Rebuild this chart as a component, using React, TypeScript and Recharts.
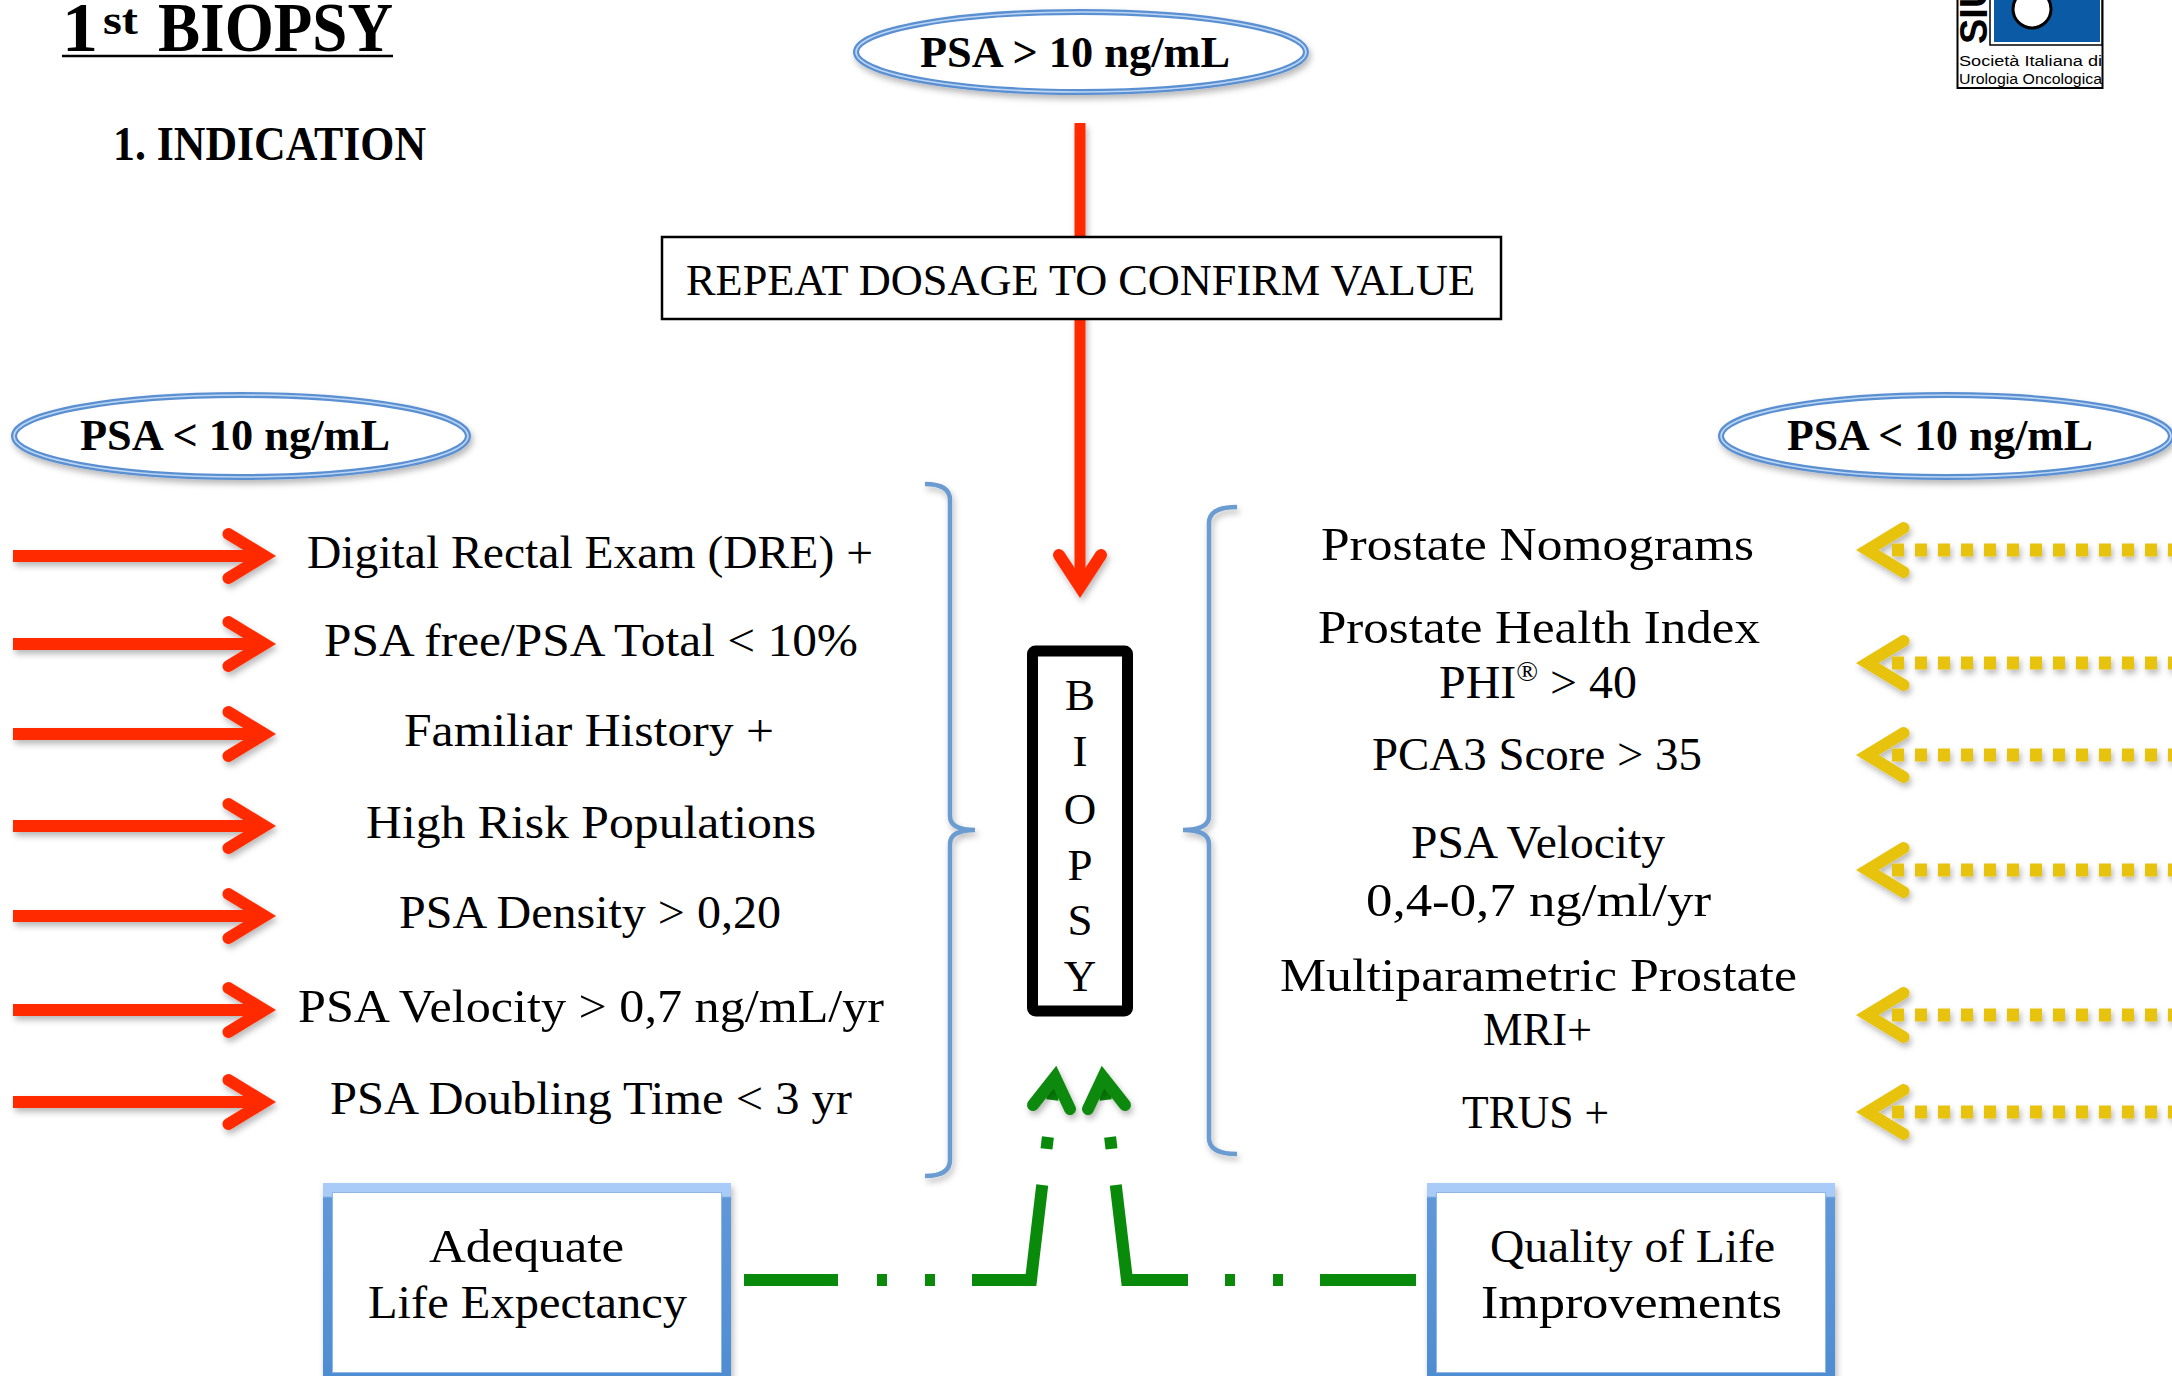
import React from 'react';
import { ScatterChart, Scatter, XAxis, YAxis } from 'recharts';

const WIDTH = 2172;
const HEIGHT = 1376;

// ---------- text content ----------
const titleParts = ['1', 'st', 'BIOPSY'];
const sectionLabel = '1. INDICATION';
const topCondition = 'PSA > 10 ng/mL';
const sideCondition = 'PSA < 10 ng/mL';
const confirmStep = 'REPEAT DOSAGE TO CONFIRM VALUE';
const biopsyLetters = ['B', 'I', 'O', 'P', 'S', 'Y'];
const leftCriteria = [
  'Digital Rectal Exam (DRE) +',
  'PSA free/PSA Total < 10%',
  'Familiar History +',
  'High Risk Populations',
  'PSA Density > 0,20',
  'PSA Velocity > 0,7 ng/mL/yr',
  'PSA Doubling Time < 3 yr',
];
const rightCriteria = [
  ['Prostate Nomograms'],
  ['Prostate Health Index', 'PHI® > 40'],
  ['PCA3 Score > 35'],
  ['PSA Velocity', '0,4-0,7 ng/ml/yr'],
  ['Multiparametric Prostate', 'MRI+'],
  ['TRUS +'],
];
const bottomFactors = [
  ['Adequate', 'Life Expectancy'],
  ['Quality of Life', 'Improvements'],
];
const logoMark = 'SIU';
const logoLines = ['Società Italiana di', 'Urologia Oncologica'];

// ---------- layout (pixel space of the diagram) ----------
const SERIF = "'Liberation Serif', 'Times New Roman', serif";
const SANS = "'Liberation Sans', Arial, sans-serif";
const RED = '#ff2a00';
const YELLOW = '#e7c30e';
const GREEN = '#0a8a0a';
const BRACE = '#6b9bd1';

const titleLayout = [
  { x: 62, y: 51, w: 36, size: 70 },
  { x: 103, y: 34, w: 35, size: 42 },
  { x: 158, y: 51, w: 235, size: 70 },
];
const leftRowY = [556, 644, 734, 826, 916, 1010, 1102];
const leftTextSpan = [
  [307, 873], [324, 858], [404, 774], [366, 816], [399, 781], [298, 884], [330, 852],
];
const rightTextLayout = [
  [[560, 1321, 1754]],
  [[643, 1318, 1760], [698, 1439, 1637]],
  [[770, 1372, 1702]],
  [[858, 1411, 1665], [916, 1366, 1711]],
  [[991, 1280, 1797], [1045, 1483, 1592]],
  [[1128, 1462, 1609]],
];
const rightArrowY = [550, 663, 755, 870, 1015, 1112];
const letterBaselines = [710, 766, 824, 880, 935, 991];
const bottomBoxLayout = [
  { x0: 323, x1: 731, lines: [[1262, 429, 624], [1318, 368, 687]] },
  { x0: 1427, x1: 1835, lines: [[1262, 1490, 1775], [1318, 1481, 1782]] },
];
const ellipseLayout = [
  { x: 1081, y: 52, rx: 225, ry: 40, tx: 920, ty: 67, tw: 310 },
  { x: 241, y: 436, rx: 227, ry: 41, tx: 80, ty: 450, tw: 310 },
  { x: 1946, y: 436, rx: 225, ry: 41, tx: 1787, ty: 450, tw: 306 },
];

type TextPt = {
  x: number; y: number; text: string; size: number; w?: number;
  weight?: string; anchor?: string; family?: string;
};

function buildTexts(): TextPt[] {
  const t: TextPt[] = [];
  titleParts.forEach((s, i) => t.push({ ...titleLayout[i], text: s, weight: 'bold' }));
  t.push({ x: 113, y: 160, w: 313, text: sectionLabel, size: 48, weight: 'bold' });
  const ellipseTexts = [topCondition, sideCondition, sideCondition];
  ellipseLayout.forEach((e, i) =>
    t.push({ x: e.tx, y: e.ty, w: e.tw, text: ellipseTexts[i], size: 44, weight: 'bold' })
  );
  t.push({ x: 686, y: 295, w: 789, text: confirmStep, size: 45 });
  biopsyLetters.forEach((s, i) =>
    t.push({ x: 1080, y: letterBaselines[i], text: s, size: 45, anchor: 'middle' })
  );
  leftCriteria.forEach((s, i) =>
    t.push({ x: leftTextSpan[i][0], y: leftRowY[i] + 12, w: leftTextSpan[i][1] - leftTextSpan[i][0], text: s, size: 46 })
  );
  rightCriteria.forEach((lines, i) =>
    lines.forEach((s, j) => {
      const [b, x0, x1] = rightTextLayout[i][j];
      t.push({ x: x0, y: b, w: x1 - x0, text: s, size: 46 });
    })
  );
  bottomFactors.forEach((lines, i) =>
    lines.forEach((s, j) => {
      const [b, x0, x1] = bottomBoxLayout[i].lines[j];
      t.push({ x: x0, y: b, w: x1 - x0, text: s, size: 46 });
    })
  );
  logoLines.forEach((s, i) =>
    t.push({ x: 1959, y: 66 + i * 18, w: 143, text: s, size: 14, family: SANS })
  );
  return t;
}
const textPoints = buildTexts();

// ---------- shapes ----------
const Empty = () => <g />;

const DefsShape = () => (
  <defs>
    <filter id="shadow" filterUnits="userSpaceOnUse" x={0} y={0} width={WIDTH} height={HEIGHT}>
      <feDropShadow dx={2} dy={4} stdDeviation={3} floodColor="#000" floodOpacity={0.28} />
    </filter>
    <linearGradient id="boxStroke" x1="0" y1="0" x2="0" y2="1">
      <stop offset="0" stopColor="#a9cbf7" />
      <stop offset="0.045" stopColor="#a9cbf7" />
      <stop offset="0.055" stopColor="#5f98d9" />
      <stop offset="1" stopColor="#4f8dd2" />
    </linearGradient>
  </defs>
);

const TextShape = (props: any) => {
  const { cx, cy, payload } = props;
  const p = payload as TextPt;
  let content: React.ReactNode = p.text;
  if (p.text.includes('®')) {
    const [a, b] = p.text.split('®');
    content = (
      <>
        <tspan>{a}</tspan>
        <tspan fontSize={p.size * 0.6} dy={-p.size * 0.36}>®</tspan>
        <tspan dy={p.size * 0.36}>{b}</tspan>
      </>
    );
  }
  return (
    <text
      x={cx}
      y={cy}
      fontSize={p.size}
      fontWeight={p.weight || 'normal'}
      fontFamily={p.family || SERIF}
      textAnchor={p.anchor || 'start'}
      textLength={p.w}
      lengthAdjust={p.w ? 'spacingAndGlyphs' : undefined}
      fill="#000"
    >
      {content}
    </text>
  );
};

const EllipseShape = (props: any) => {
  const { cx, cy, payload } = props;
  return (
    <g>
      <ellipse cx={cx} cy={cy} rx={payload.rx} ry={payload.ry} fill="#fff" stroke="#5a90d2" strokeWidth={6} filter="url(#shadow)" />
      <ellipse cx={cx} cy={cy} rx={payload.rx} ry={payload.ry} fill="none" stroke="#bcd5f2" strokeWidth={1.6} />
    </g>
  );
};

const RightArrowShape = (props: any) => {
  const { cx, cy } = props;
  const ax = cx - 11.5;
  return (
    <g filter="url(#shadow)">
      <line x1={cx - 263} y1={cy} x2={ax} y2={cy} stroke={RED} strokeWidth={12} />
      <polyline
        points={`${cx - 47.5},${cy - 22} ${ax},${cy} ${cx - 47.5},${cy + 22}`}
        fill="none" stroke={RED} strokeWidth={12} strokeLinecap="round" strokeLinejoin="miter"
      />
    </g>
  );
};

const LeftArrowShape = (props: any) => {
  const { cx, cy } = props;
  const ax = cx + 11.5;
  return (
    <g filter="url(#shadow)">
      <line x1={cx + 36} y1={cy} x2={WIDTH + 20} y2={cy} stroke={YELLOW} strokeWidth={13} strokeDasharray="12 11" />
      <polyline
        points={`${cx + 47.5},${cy - 22} ${ax},${cy} ${cx + 47.5},${cy + 22}`}
        fill="none" stroke={YELLOW} strokeWidth={12} strokeLinecap="round" strokeLinejoin="miter"
      />
    </g>
  );
};

const DownArrowShape = (props: any) => {
  const { cx, cy } = props;
  const ay = cy - 11;
  return (
    <g filter="url(#shadow)">
      <line x1={cx} y1={cy - 475} x2={cx} y2={ay} stroke={RED} strokeWidth={11} />
      <polyline
        points={`${cx - 21},${ay - 32} ${cx},${ay} ${cx + 21},${ay - 32}`}
        fill="none" stroke={RED} strokeWidth={12} strokeLinecap="round" strokeLinejoin="miter"
      />
    </g>
  );
};

const RectShape = (props: any) => {
  const { cx, cy, payload } = props;
  return (
    <rect
      x={cx} y={cy} width={payload.w} height={payload.h} rx={payload.r || 0}
      fill="#fff" stroke={payload.stroke} strokeWidth={payload.sw}
    />
  );
};

const FactorBoxShape = (props: any) => {
  const { cx, cy, payload } = props;
  const w = payload.w;
  const h = 190;
  return (
    <g>
      <rect x={cx + 4.5} y={cy + 4.5} width={w - 9} height={h} fill="#fff" stroke="url(#boxStroke)" strokeWidth={9} filter="url(#shadow)" />
      <rect x={cx + 9.5} y={cy + 9.5} width={w - 19} height={h - 10} fill="none" stroke="#8fb6e6" strokeWidth={1} />
    </g>
  );
};

const BraceShape = (props: any) => {
  const { cx, cy, payload } = props;
  const dir = payload.dir; // +1 : "}" tip to the right, -1 : "{" tip to the left
  const vx = cx - dir * payload.depth;
  const hx = cx - dir * payload.hook;
  const top = cy - payload.up;
  const bot = cy + payload.down;
  const d = `M${hx},${top} Q${vx},${top} ${vx},${top + 16} L${vx},${cy - 14} Q${vx},${cy} ${cx},${cy} Q${vx},${cy} ${vx},${cy + 14} L${vx},${bot - 16} Q${vx},${bot} ${hx},${bot}`;
  return <path d={d} fill="none" stroke={BRACE} strokeWidth={4.5} filter="url(#shadow)" />;
};

const GreenHeadShape = (props: any) => {
  const { cx, cy, payload } = props;
  const m = payload.dir;
  return (
    <polyline
      points={`${cx - 22 * m},${cy + 28} ${cx},${cy} ${cx + 15 * m},${cy + 32}`}
      fill="none" stroke={GREEN} strokeWidth={12} strokeLinecap="round" strokeLinejoin="miter"
      filter="url(#shadow)"
    />
  );
};

const LogoShape = (props: any) => {
  const { cx, cy } = props;
  return (
    <g>
      <rect x={cx + 0.5} y={cy - 6} width={145} height={94} fill="#fff" stroke="#000" strokeWidth={2} />
      <rect x={cx + 33} y={cy - 6} width={112} height={51} fill="#fff" stroke="#000" strokeWidth={1.5} />
      <rect x={cx + 37} y={cy - 6} width={106} height={48} fill="#0a5aa6" />
      <circle cx={cx + 75} cy={cy + 9} r={19} fill="#fff" stroke="#000" strokeWidth={3} />
      <text
        x={cx + 30} y={cy + 44} transform={`rotate(-90 ${cx + 30} ${cy + 44})`}
        fontFamily={SANS} fontWeight="bold" fontSize={38} fill="#000"
      >
        {logoMark}
      </text>
    </g>
  );
};

// ---------- point sets ----------
const defsPoint = [{ x: 0, y: 0 }];
const logoPoint = [{ x: 1957, y: 0 }];
const underlinePts = [{ x: 62, y: 56 }, { x: 393, y: 56 }];
const ellipsePts = ellipseLayout.map((e) => ({ x: e.x, y: e.y, rx: e.rx, ry: e.ry }));
const downArrowPt = [{ x: 1080, y: 598 }];
const confirmBoxPt = [{ x: 662, y: 237, w: 839, h: 82, stroke: '#000', sw: 2.5 }];
const biopsyBoxPt = [{ x: 1032.5, y: 651, w: 95, h: 360, r: 3, stroke: '#000', sw: 11 }];
const leftArrowPts = leftCriteria.map((_, i) => ({ x: 276, y: leftRowY[i] }));
const rightArrowPts = rightCriteria.map((_, i) => ({ x: 1856, y: rightArrowY[i] }));
const bracePts = [
  { x: 975, y: 830, dir: 1, depth: 25, hook: 50, up: 346, down: 346 },
  { x: 1183, y: 830, dir: -1, depth: 26, hook: 54, up: 323, down: 324 },
];
const factorBoxPts = bottomBoxLayout.map((b) => ({ x: b.x0, y: 1183, w: b.x1 - b.x0 }));
const greenLeftPath = [{ x: 744, y: 1280 }, { x: 1031, y: 1280 }, { x: 1055, y: 1077 }];
const greenRightPath = [{ x: 1416, y: 1280 }, { x: 1127, y: 1280 }, { x: 1103, y: 1077 }];
const greenHeadPts = [{ x: 1055, y: 1077, dir: 1 }, { x: 1103, y: 1077, dir: -1 }];

export default function App() {
  return (
    <div style={{ position: 'absolute', left: 0, top: 0, width: WIDTH, height: HEIGHT, background: '#fff', overflow: 'hidden' }}>
      <ScatterChart width={WIDTH} height={HEIGHT} margin={{ top: 0, right: 0, bottom: 0, left: 0 }}>
        <XAxis type="number" dataKey="x" domain={[0, WIDTH]} hide />
        <YAxis type="number" dataKey="y" domain={[0, HEIGHT]} reversed hide />
        <Scatter data={defsPoint} shape={DefsShape} isAnimationActive={false} />
        <Scatter data={logoPoint} shape={LogoShape} isAnimationActive={false} />
        <Scatter
          data={underlinePts} shape={Empty} fill="#000" isAnimationActive={false}
          line={{ stroke: '#000', strokeWidth: 2.5 }} lineType="joint"
        />
        <Scatter data={downArrowPt} shape={DownArrowShape} isAnimationActive={false} />
        <Scatter data={ellipsePts} shape={EllipseShape} isAnimationActive={false} />
        <Scatter data={confirmBoxPt} shape={RectShape} isAnimationActive={false} />
        <Scatter data={biopsyBoxPt} shape={RectShape} isAnimationActive={false} />
        <Scatter data={leftArrowPts} shape={RightArrowShape} isAnimationActive={false} />
        <Scatter data={rightArrowPts} shape={LeftArrowShape} isAnimationActive={false} />
        <Scatter data={bracePts} shape={BraceShape} isAnimationActive={false} />
        <Scatter data={factorBoxPts} shape={FactorBoxShape} isAnimationActive={false} />
        <Scatter
          data={greenLeftPath} shape={Empty} fill={GREEN} isAnimationActive={false} lineType="joint"
          line={{ stroke: GREEN, strokeWidth: 12, strokeDasharray: '94 39 10 38 10 37 154.7 36.3 12 37.3 12.1 60', strokeLinejoin: 'miter' }}
        />
        <Scatter
          data={greenRightPath} shape={Empty} fill={GREEN} isAnimationActive={false} lineType="joint"
          line={{ stroke: GREEN, strokeWidth: 12, strokeDasharray: '96 37 10 38 10 37 156.7 36.3 12 37.3 12.1 60', strokeLinejoin: 'miter' }}
        />
        <Scatter data={greenHeadPts} shape={GreenHeadShape} isAnimationActive={false} />
        <Scatter data={textPoints} shape={TextShape} isAnimationActive={false} />
      </ScatterChart>
    </div>
  );
}
